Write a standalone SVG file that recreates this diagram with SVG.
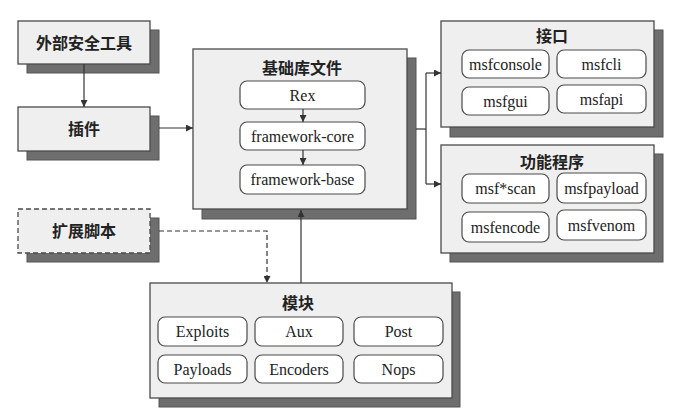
<svg xmlns="http://www.w3.org/2000/svg" width="679" height="418" viewBox="0 0 679 418">
<defs>
<style>
.sh{fill:#6e6e6e;stroke:#555;stroke-width:1}
.bx{fill:#efefef;stroke:#4a4a4a;stroke-width:1.3}
.dbx{fill:#efefef;stroke:#4a4a4a;stroke-width:1.3;stroke-dasharray:5 3}
.in{fill:#ffffff;stroke:#4a4a4a;stroke-width:1.2}
.zh{font-family:"Liberation Serif","Noto Sans CJK SC",serif;font-size:16px;font-weight:bold;fill:#222;text-anchor:middle;dominant-baseline:central}
.en{font-family:"Liberation Serif","Noto Sans CJK SC",serif;font-size:16px;fill:#222;text-anchor:middle;dominant-baseline:central}
.ln{fill:none;stroke:#333;stroke-width:1.2}
.dl{fill:none;stroke:#333;stroke-width:1.2;stroke-dasharray:5 3}
</style>
<marker id="ah" viewBox="0 0 10 10" refX="10" refY="5" markerWidth="7" markerHeight="7" markerUnits="userSpaceOnUse" orient="auto">
<path d="M0,0 L10,5 L0,10 z" fill="#333"/>
</marker>
</defs>
<rect width="679" height="418" fill="#ffffff"/>

<g id="external-tools">
<rect class="sh" x="27" y="30" width="132" height="43"/>
<rect class="bx" x="18" y="21" width="132" height="43"/>
<text class="zh" x="84" y="43">外部安全工具</text>
</g>

<g id="plugins">
<rect class="sh" x="27" y="116" width="132" height="44"/>
<rect class="bx" x="18" y="107" width="132" height="44"/>
<text class="zh" x="84" y="129">插件</text>
</g>

<g id="ext-scripts">
<rect class="sh" x="27" y="218" width="132" height="44"/>
<rect class="dbx" x="18" y="209" width="132" height="44"/>
<text class="zh" x="84" y="231">扩展脚本</text>
</g>

<g id="base-libs">
<rect class="sh" x="202" y="58" width="214" height="161"/>
<rect class="bx" x="193" y="49" width="214" height="160"/>
<text class="zh" x="302" y="68">基础库文件</text>
<rect class="in" x="240" y="81" width="125" height="28" rx="7"/>
<text class="en" x="302.5" y="95">Rex</text>
<rect class="in" x="240" y="122" width="125" height="28" rx="7"/>
<text class="en" x="302.5" y="136">framework-core</text>
<rect class="in" x="240" y="165" width="125" height="29" rx="7"/>
<text class="en" x="302.5" y="179.5">framework-base</text>
</g>

<g id="interfaces">
<rect class="sh" x="450" y="30" width="213" height="107"/>
<rect class="bx" x="441" y="21" width="213" height="106"/>
<text class="zh" x="552" y="36">接口</text>
<rect class="in" x="462" y="50" width="87" height="28" rx="7"/>
<text class="en" x="505.5" y="64">msfconsole</text>
<rect class="in" x="557" y="50" width="89" height="28" rx="7"/>
<text class="en" x="601.5" y="64">msfcli</text>
<rect class="in" x="462" y="87" width="87" height="28" rx="7"/>
<text class="en" x="505.5" y="101">msfgui</text>
<rect class="in" x="557" y="85" width="89" height="28" rx="7"/>
<text class="en" x="601.5" y="99">msfapi</text>
</g>

<g id="utilities">
<rect class="sh" x="450" y="154" width="213" height="108"/>
<rect class="bx" x="441" y="145" width="213" height="108"/>
<text class="zh" x="552" y="162">功能程序</text>
<rect class="in" x="462" y="174" width="87" height="29" rx="7"/>
<text class="en" x="505.5" y="188.5">msf*scan</text>
<rect class="in" x="557" y="173" width="89" height="30" rx="7"/>
<text class="en" x="601.5" y="188">msfpayload</text>
<rect class="in" x="462" y="212" width="87" height="30" rx="7"/>
<text class="en" x="505.5" y="227">msfencode</text>
<rect class="in" x="557" y="210" width="89" height="30" rx="7"/>
<text class="en" x="601.5" y="225">msfvenom</text>
</g>

<g id="modules">
<rect class="sh" x="159" y="292" width="301" height="115"/>
<rect class="bx" x="150" y="283" width="302" height="115"/>
<text class="zh" x="298" y="303">模块</text>
<rect class="in" x="158" y="317" width="89" height="29" rx="7"/>
<text class="en" x="202.5" y="331.5">Exploits</text>
<rect class="in" x="255" y="317" width="88" height="29" rx="7"/>
<text class="en" x="299" y="331.5">Aux</text>
<rect class="in" x="354" y="317" width="89" height="29" rx="7"/>
<text class="en" x="398.5" y="331.5">Post</text>
<rect class="in" x="158" y="355" width="89" height="28" rx="7"/>
<text class="en" x="202.5" y="369">Payloads</text>
<rect class="in" x="255" y="355" width="88" height="28" rx="7"/>
<text class="en" x="299" y="369">Encoders</text>
<rect class="in" x="354" y="355" width="89" height="28" rx="7"/>
<text class="en" x="398.5" y="369">Nops</text>
</g>

<g id="connectors">
<line class="ln" x1="84" y1="64" x2="84" y2="107" marker-end="url(#ah)"/>
<line class="ln" x1="159" y1="128" x2="193" y2="128" marker-end="url(#ah)"/>
<line class="ln" x1="303" y1="109" x2="303" y2="122" marker-end="url(#ah)"/>
<line class="ln" x1="303" y1="150" x2="303" y2="165" marker-end="url(#ah)"/>
<polyline class="ln" points="416,129 426,129"/>
<polyline class="ln" points="426,73 426,184"/>
<line class="ln" x1="426" y1="73" x2="441" y2="73" marker-end="url(#ah)"/>
<line class="ln" x1="426" y1="184" x2="441" y2="184" marker-end="url(#ah)"/>
<line class="ln" x1="301" y1="283" x2="301" y2="210" marker-end="url(#ah)"/>
<polyline class="dl" points="159,231 267,231 267,283" marker-end="url(#ah)"/>
</g>
</svg>
